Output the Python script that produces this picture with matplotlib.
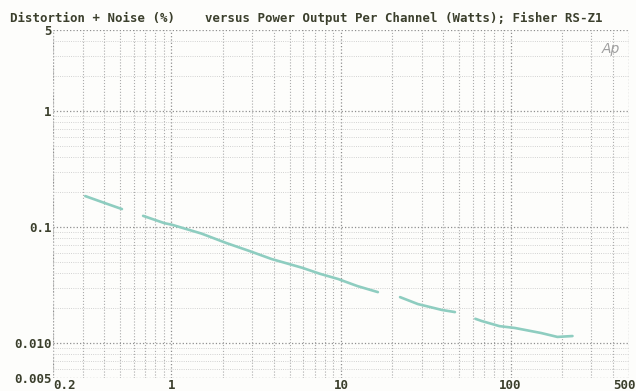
import matplotlib.pyplot as plt
from matplotlib.ticker import NullFormatter, LogLocator, FixedLocator
import matplotlib.transforms as mtrans
import numpy as np

# THD+N (%) vs power per channel (W), gaps (nan) are where the scan lost the trace
watts = [0.31, 0.4, 0.51, np.nan, 0.68, 0.91, 1.0, 1.5, 2.1, 2.9, 3.9, 5.9, 7.5, 9.6, 12.5, 16.5,
         np.nan, 22.3, 28.4, 39.4, 47, np.nan, 62, 67.6, 86, 106, 152, 189, 232]
thdn = [0.185, 0.162, 0.143, np.nan, 0.125, 0.108, 0.105, 0.088, 0.073, 0.062, 0.053, 0.0446, 0.0396,
        0.0357, 0.031, 0.0275, np.nan, 0.0249, 0.0217, 0.0193, 0.0185, np.nan, 0.0162, 0.0155,
        0.014, 0.0135, 0.0122, 0.0113, 0.0115]

x_ticks = [0.2, 1, 10, 100, 500]
x_labels = ["0.2", "1", "10", "100", "500"]
y_ticks = [0.005, 0.010, 0.1, 1, 5]
y_labels = ["0.005", "0.010", "0.1", "1", "5"]

title = "Distortion + Noise (%)    versus Power Output Per Channel (Watts); Fisher RS-Z1"

ink = "#3b3f2c"
fnt = dict(family="DejaVu Sans Mono", weight="bold", size=8.95, color=ink)

fig = plt.figure(figsize=(6.36, 3.91), dpi=100, facecolor="#fdfdfb")
ax = fig.add_axes([53 / 636, 1 - 378 / 391, 576 / 636, 348 / 391])
ax.set_facecolor("#fdfdfb")

ax.plot(watts, thdn, color="#8ecdc0", lw=1.9, solid_capstyle="round")

ax.set_xscale("log")
ax.set_yscale("log")
ax.set_xlim(0.2, 500)
ax.set_ylim(0.005, 5)

ax.xaxis.set_major_locator(FixedLocator(x_ticks))
ax.yaxis.set_major_locator(FixedLocator(y_ticks))
ax.xaxis.set_minor_locator(LogLocator(base=10, subs=np.arange(2, 10)))
ax.yaxis.set_minor_locator(LogLocator(base=10, subs=np.arange(2, 10)))
ax.xaxis.set_minor_formatter(NullFormatter())
ax.yaxis.set_minor_formatter(NullFormatter())
ax.set_xticklabels(x_labels, **fnt)
ax.set_yticklabels(y_labels, **fnt)
ax.tick_params(which="both", length=0, pad=1)
ax.tick_params(axis="x", pad=0.5)

xl = ax.get_xticklabels()
xl[0].set_ha("left")
xl[-1].set_transform(xl[-1].get_transform() + mtrans.ScaledTranslation(-5 / 100, 0, fig.dpi_scale_trans))

ax.grid(which="major", linestyle=":", color="#8f8f8f", lw=0.9)
ax.xaxis.grid(which="minor", linestyle=":", color="#ababab", lw=0.8)
ax.yaxis.grid(which="minor", linestyle=":", color="#c4c4c4", lw=0.6)
for s in ax.spines.values():
    s.set_visible(False)
ax.axvline(0.2, color="#b4b4b4", ls=":", lw=0.8)
ax.axvline(500, color="#b4b4b4", ls=":", lw=0.8)

fig.text(10 / 636, 1 - 18 / 391, title, ha="left", va="center", **fnt)
ax.text(0.985, 0.965, "Ap", transform=ax.transAxes, ha="right", va="top",
        fontsize=10, style="italic", color="#a0a0a0")

fig.savefig("out.png", dpi=100, facecolor=fig.get_facecolor())
